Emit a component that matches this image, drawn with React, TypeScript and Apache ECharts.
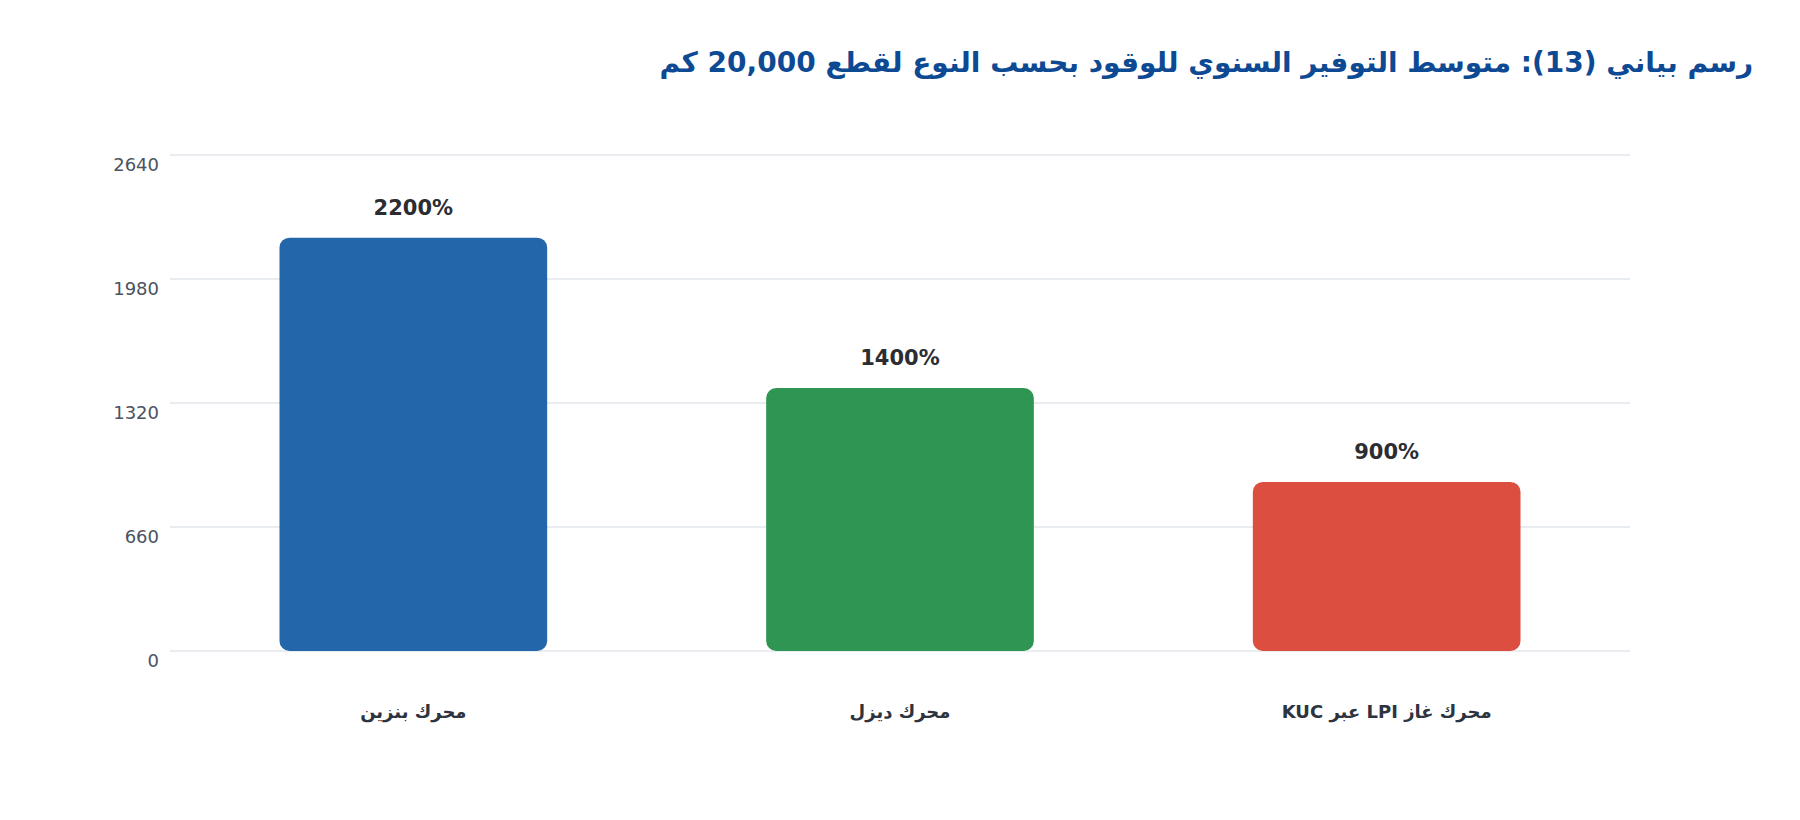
import React, { useEffect, useRef } from "react";
import * as echarts from "echarts";

const titleText = "رسم بياني (13): متوسط التوفير السنوي للوقود بحسب النوع لقطع 20,000 كم";
const categories = ["محرك بنزين", "محرك ديزل", "محرك غاز LPI عبر KUC"];
const values = [2200, 1400, 900];
const barColors = ["#2366a9", "#2e9552", "#dc4f40"];
const yMax = 2640;
const yInterval = 660;

export default function App() {
  const ref = useRef<HTMLDivElement>(null);
  useEffect(() => {
    if (!ref.current) return;
    const chart = echarts.init(ref.current, null, { renderer: "svg" });
    const font = "DejaVu Sans";
    chart.setOption({
      animation: false,
      backgroundColor: "#ffffff",
      title: {
        text: titleText,
        right: 42,
        top: 43,
        textStyle: { fontFamily: font, fontSize: 28, fontWeight: "bold", color: "#0d4a93" },
      },
      grid: { left: 170, right: 170, top: 155, bottom: 169, containLabel: false },
      xAxis: {
        type: "category",
        data: categories,
        axisLine: { show: false },
        axisTick: { show: false },
        axisLabel: {
          margin: 51,
          fontFamily: font,
          fontSize: 18,
          fontWeight: "bold",
          color: "#2d3440",
          formatter: (v: string) => "\u202B" + v + "\u202C",
        },
      },
      yAxis: {
        type: "value",
        min: 0,
        max: yMax,
        interval: yInterval,
        axisLine: { show: false },
        axisTick: { show: false },
        splitLine: { lineStyle: { color: "#e2e6eb", width: 1.5 } },
        axisLabel: {
          margin: 11,
          verticalAlign: "top",
          fontFamily: font,
          fontSize: 18,
          color: "#4a5361",
          formatter: (v: number) => String(v),
        },
      },
      series: [
        {
          type: "bar",
          barWidth: "55%",
          data: values.map((v, i) => ({
            value: v,
            itemStyle: { color: barColors[i], borderRadius: 10 },
          })),
          label: {
            show: true,
            position: "top",
            distance: 19,
            formatter: (p: any) => `${p.value}%`,
            fontFamily: font,
            fontSize: 21,
            fontWeight: "bold",
            color: "#2b2d31",
          },
        },
      ],
    });
    return () => chart.dispose();
  }, []);
  return (
    <div
      ref={ref}
      style={{ position: "absolute", left: 0, top: 0, width: 1800, height: 820 }}
    />
  );
}
